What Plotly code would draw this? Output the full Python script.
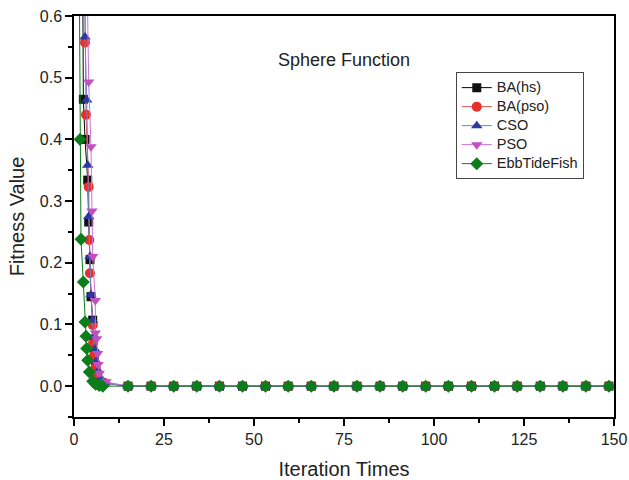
import plotly.graph_objects as go

# ---- data ----
tail_x = [15, 21.4, 27.7, 34.1, 40.4, 46.8, 53.2, 59.5, 65.9, 72.2, 78.6, 85.0,
          91.3, 97.7, 104.0, 110.4, 116.8, 123.1, 129.5, 135.8, 142.2, 148.6]
tail_y = [0.0] * len(tail_x)

ba_hs_x = [2.2, 2.6, 3.06, 3.81, 4.08, 4.44, 4.72, 5.19, 5.4, 5.7, 6.0, 6.5, 7.2]
ba_hs_y = [0.9, 0.465, 0.40, 0.334, 0.266, 0.205, 0.145, 0.107, 0.075, 0.05, 0.03, 0.015, 0.006]

ba_pso_x = [2.7, 3.06, 3.33, 4.08, 4.25, 4.44, 5.19, 5.3, 5.6, 6.0, 6.5, 7.2, 8.5]
ba_pso_y = [0.9, 0.557, 0.44, 0.323, 0.237, 0.183, 0.099, 0.07, 0.05, 0.03, 0.018, 0.01, 0.005]

cso_x = [2.7, 3.06, 3.53, 3.81, 4.08, 4.44, 4.72, 5.19, 5.4, 5.8, 6.2, 6.7, 7.4, 8.5]
cso_y = [0.9, 0.566, 0.464, 0.358, 0.275, 0.21, 0.148, 0.107, 0.08, 0.06, 0.04, 0.025, 0.012, 0.005]

pso_x = [3.0, 4.08, 4.72, 5.0, 5.19, 5.92, 5.92, 6.3, 6.58, 6.7, 7.0, 8.9]
pso_y = [0.9, 0.493, 0.388, 0.284, 0.21, 0.139, 0.086, 0.077, 0.053, 0.035, 0.021, 0.007]

ebb_x = [1.1, 1.67, 1.94, 2.58, 3.06, 3.33, 3.53, 3.81, 4.25, 5.19, 6.0, 7.0, 8.0]
ebb_y = [1.0, 0.40, 0.238, 0.169, 0.104, 0.081, 0.061, 0.042, 0.023, 0.008, 0.003, 0.001, 0.0]

series = [
    ("BA(hs)", ba_hs_x, ba_hs_y, "square", "#111111", "#000000", 9),
    ("BA(pso)", ba_pso_x, ba_pso_y, "circle", "#e8302a", "#f05050", 10),
    ("CSO", cso_x, cso_y, "triangle-up", "#2b3a9c", "#7080c8", 10),
    ("PSO", pso_x, pso_y, "triangle-down", "#c050c0", "#d070d8", 10),
    ("EbbTideFish", ebb_x, ebb_y, "diamond", "#0b7d1b", "#0b7d1b", 10),
]

fig = go.Figure()
for name, xs, ys, sym, mcol, lcol, sz in series:
    fig.add_trace(go.Scatter(
        x=xs + tail_x, y=ys + tail_y,
        name='<span style="font-size:14.5px">' + name + '</span>',
        mode="lines+markers",
        line=dict(color=lcol, width=1),
        marker=dict(symbol=sym, color=mcol, size=sz, line=dict(width=0)),
    ))

FONT = "Liberation Sans, Arial"
axis_common = dict(
    showline=True, linecolor="#000000", linewidth=1.5, mirror=True,
    showgrid=False, zeroline=False, ticks="outside", ticklen=7, tickwidth=1.5,
    tickcolor="#000000", automargin=False,
    tickfont=dict(family=FONT, size=16, color="#222222"),
)

fig.update_xaxes(range=[0, 150], tick0=0, dtick=25,
                 minor=dict(ticks="outside", ticklen=4, tickwidth=1.5, dtick=12.5, tickcolor="#000000"),
                 title=dict(text="Iteration Times", font=dict(family=FONT, size=20, color="#222222"), standoff=15),
                 **axis_common)
fig.update_yaxes(range=[-0.05, 0.6], tick0=0, dtick=0.1, tickformat=".1f",
                 minor=dict(ticks="outside", ticklen=4, tickwidth=1.5, dtick=0.05, tickcolor="#000000"),
                 title=dict(text="Fitness Value", font=dict(family=FONT, size=20, color="#222222"), standoff=10),
                 **axis_common)

fig.add_annotation(text="Sphere Function", x=0.5, y=0.890, xref="paper", yref="paper",
                   xanchor="center", yanchor="middle",
                   showarrow=False, font=dict(family=FONT, size=18, color="#222222"))

fig.update_layout(
    width=629, height=480,
    margin=dict(l=74, r=15, t=16, b=63, autoexpand=False),
    paper_bgcolor="white", plot_bgcolor="white",
    showlegend=True,
    legend=dict(x=0.707, y=0.860, xanchor="left", yanchor="top",
                bordercolor="#444444", borderwidth=1, bgcolor="white",
                font=dict(family=FONT, size=12, color="#222222"),
                tracegroupgap=0, itemwidth=30),
)

# remove the default 8px page margin so the 629x480 figure fills the window exactly
fig.write_html("out.html", config={"displayModeBar": False},
               post_script="document.body.style.margin='0px';")
